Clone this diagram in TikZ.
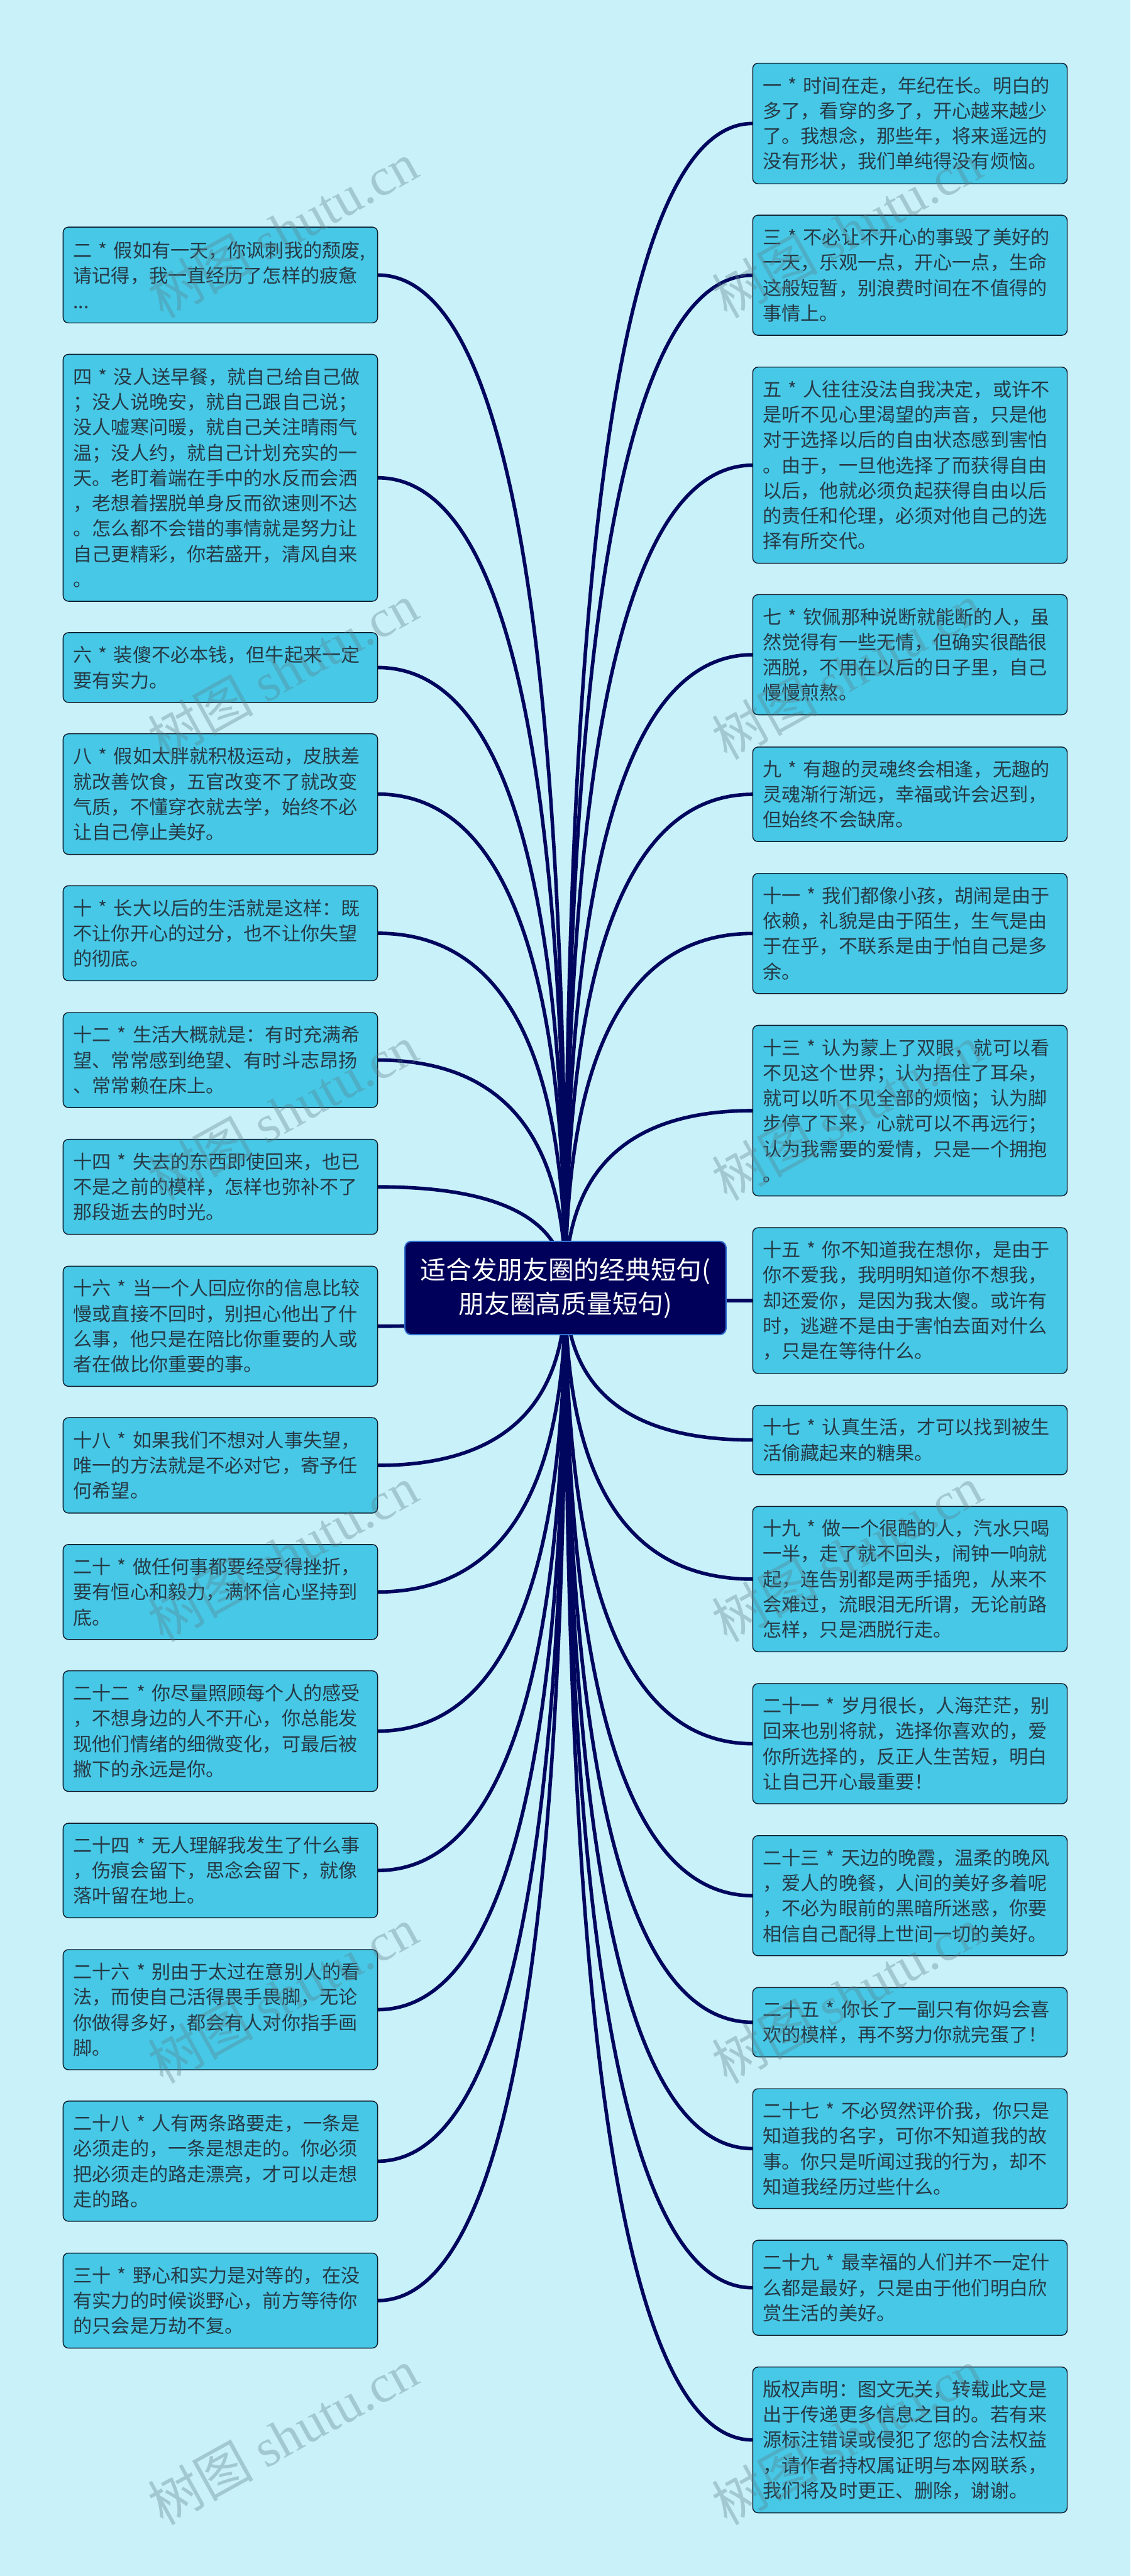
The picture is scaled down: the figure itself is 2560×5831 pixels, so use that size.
\documentclass[tikz,border=0pt]{standalone}
\usepackage{fontspec}
\setmainfont{Noto Sans CJK SC}
\newfontfamily\wmlat{Liberation Serif}
\usetikzlibrary{calc}
\definecolor{pagebg}{HTML}{C9F1F9}
\definecolor{leaffill}{HTML}{47C8E6}
\definecolor{leafline}{HTML}{0B1A2A}
\definecolor{leaftext}{HTML}{263A46}
\definecolor{rootfill}{HTML}{00005A}
\definecolor{rootline}{HTML}{2F6FD0}
\definecolor{linkcol}{HTML}{00065E}
\definecolor{wmcol}{HTML}{5A7F8A}
\pgfdeclarelayer{bgfill}
\pgfdeclarelayer{edges}
\pgfdeclarelayer{wm}
\pgfsetlayers{bgfill,edges,main,wm}
\tikzset{
  leafbox/.style={draw=leafline,fill=leaffill,line width=1pt,rounded corners=6pt,
    text=leaftext,align=left,inner xsep=11.5pt,inner ysep=0pt,outer sep=0pt,
    text width=333pt,
    font={\fontsize{21.45pt}{28.65pt}\selectfont\spaceskip=.27em\relax}},
  rootbox/.style={draw=rootline,fill=rootfill,line width=1.5pt,rounded corners=7pt,
    text=white,align=center,inner sep=0pt,outer sep=0pt,
    minimum width=363.5pt,minimum height=105.5pt,
    font={\fontsize{29pt}{38.5pt}\selectfont}},
  link/.style={draw=linkcol,line width=4pt},
  wmark/.style={text=wmcol,opacity=.35,rotate=29,inner sep=0pt,
    font={\fontsize{60pt}{60pt}\selectfont}}
}
\newcommand{\leafL}[4]{\node[leafbox,minimum height={(#3-#2)*0.5pt}] (#1) at ({499},{(#2+#3)/2}) {#4};}
\newcommand{\leafR}[4]{\node[leafbox,minimum height={(#3-#2)*0.5pt}] (#1) at ({2060.5},{(#2+#3)/2}) {#4};}
\begin{document}
\begin{tikzpicture}[x=0.5pt,y=-0.5pt]
\useasboundingbox (0,0) rectangle (2560,5831);
\begin{pgfonlayer}{bgfill}
\fill[pagebg] (0,0) rectangle (2560,5831);
\end{pgfonlayer}
\node[rootbox] (root) at (1280.5,2915.5) {适合发朋友圈的经典短句(\\朋友圈高质量短句)};
\leafL{l2}{514}{731}{二 * 假如有一天，你讽刺我的颓废,\\请记得，我一直经历了怎样的疲惫\\...}
\leafL{l4}{802}{1361}{四 * 没人送早餐，就自己给自己做\\；没人说晚安，就自己跟自己说；\\没人嘘寒问暖，就自己关注晴雨气\\温；没人约，就自己计划充实的一\\天。老盯着端在手中的水反而会洒\\，老想着摆脱单身反而欲速则不达\\。怎么都不会错的事情就是努力让\\自己更精彩，你若盛开，清风自来\\。}
\leafL{l6}{1432}{1590}{六 * 装傻不必本钱，但牛起来一定\\要有实力。}
\leafL{l8}{1661}{1934}{八 * 假如太胖就积极运动，皮肤差\\就改善饮食，五官改变不了就改变\\气质，不懂穿衣就去学，始终不必\\让自己停止美好。}
\leafL{l10}{2005}{2220}{十 * 长大以后的生活就是这样：既\\不让你开心的过分，也不让你失望\\的彻底。}
\leafL{l12}{2292}{2507}{十二 * 生活大概就是：有时充满希\\望、常常感到绝望、有时斗志昂扬\\、常常赖在床上。}
\leafL{l14}{2579}{2794}{十四 * 失去的东西即使回来，也已\\不是之前的模样，怎样也弥补不了\\那段逝去的时光。}
\leafL{l16}{2866}{3138}{十六 * 当一个人回应你的信息比较\\慢或直接不回时，别担心他出了什\\么事，他只是在陪比你重要的人或\\者在做比你重要的事。}
\leafL{l18}{3209}{3425}{十八 * 如果我们不想对人事失望，\\唯一的方法就是不必对它，寄予任\\何希望。}
\leafL{l20}{3496}{3711}{二十 * 做任何事都要经受得挫折，\\要有恒心和毅力，满怀信心坚持到\\底。}
\leafL{l22}{3782}{4055}{二十二 * 你尽量照顾每个人的感受\\，不想身边的人不开心，你总能发\\现他们情绪的细微变化，可最后被\\撇下的永远是你。}
\leafL{l24}{4127}{4341}{二十四 * 无人理解我发生了什么事\\，伤痕会留下，思念会留下，就像\\落叶留在地上。}
\leafL{l26}{4413}{4685}{二十六 * 别由于太过在意别人的看\\法，而使自己活得畏手畏脚，无论\\你做得多好，都会有人对你指手画\\脚。}
\leafL{l28}{4756}{5028}{二十八 * 人有两条路要走，一条是\\必须走的，一条是想走的。你必须\\把必须走的路走漂亮，才可以走想\\走的路。}
\leafL{l30}{5100}{5315}{三十 * 野心和实力是对等的，在没\\有实力的时候谈野心，前方等待你\\的只会是万劫不复。}
\leafR{r1}{143}{416}{一 * 时间在走，年纪在长。明白的\\多了，看穿的多了，开心越来越少\\了。我想念，那些年，将来遥远的\\没有形状，我们单纯得没有烦恼。}
\leafR{r3}{487}{759}{三 * 不必让不开心的事毁了美好的\\一天，乐观一点，开心一点，生命\\这般短暂，别浪费时间在不值得的\\事情上。}
\leafR{r5}{831}{1275}{五 * 人往往没法自我决定，或许不\\是听不见心里渴望的声音，只是他\\对于选择以后的自由状态感到害怕\\。由于，一旦他选择了而获得自由\\以后，他就必须负起获得自由以后\\的责任和伦理，必须对他自己的选\\择有所交代。}
\leafR{r7}{1346}{1618}{七 * 钦佩那种说断就能断的人，虽\\然觉得有一些无情，但确实很酷很\\洒脱，不用在以后的日子里，自己\\慢慢煎熬。}
\leafR{r9}{1691}{1905}{九 * 有趣的灵魂终会相逢，无趣的\\灵魂渐行渐远，幸福或许会迟到，\\但始终不会缺席。}
\leafR{r11}{1977}{2249}{十一 * 我们都像小孩，胡闹是由于\\依赖，礼貌是由于陌生，生气是由\\于在乎，不联系是由于怕自己是多\\余。}
\leafR{r13}{2321}{2707}{十三 * 认为蒙上了双眼，就可以看\\不见这个世界；认为捂住了耳朵，\\就可以听不见全部的烦恼；认为脚\\步停了下来，心就可以不再远行；\\认为我需要的爱情，只是一个拥抱\\。}
\leafR{r15}{2779}{3109}{十五 * 你不知道我在想你，是由于\\你不爱我，我明明知道你不想我，\\却还爱你，是因为我太傻。或许有\\时，逃避不是由于害怕去面对什么\\，只是在等待什么。}
\leafR{r17}{3181}{3338}{十七 * 认真生活，才可以找到被生\\活偷藏起来的糖果。}
\leafR{r19}{3410}{3739}{十九 * 做一个很酷的人，汽水只喝\\一半，走了就不回头，闹钟一响就\\起，连告别都是两手插兜，从来不\\会难过，流眼泪无所谓，无论前路\\怎样，只是洒脱行走。}
\leafR{r21}{3811}{4083}{二十一 * 岁月很长，人海茫茫，别\\回来也别将就，选择你喜欢的，爱\\你所选择的，反正人生苦短，明白\\让自己开心最重要！}
\leafR{r23}{4155}{4427}{二十三 * 天边的晚霞，温柔的晚风\\，爱人的晚餐，人间的美好多着呢\\，不必为眼前的黑暗所迷惑，你要\\相信自己配得上世间一切的美好。}
\leafR{r25}{4499}{4656}{二十五 * 你长了一副只有你妈会喜\\欢的模样，再不努力你就完蛋了！}
\leafR{r27}{4728}{4999}{二十七 * 不必贸然评价我，你只是\\知道我的名字，可你不知道我的故\\事。你只是听闻过我的行为，却不\\知道我经历过些什么。}
\leafR{r29}{5071}{5286}{二十九 * 最幸福的人们并不一定什\\么都是最好，只是由于他们明白欣\\赏生活的美好。}
\leafR{r31}{5358}{5688}{版权声明：图文无关，转载此文是\\出于传递更多信息之目的。若有来\\源标注错误或侵犯了您的合法权益\\，请作者持权属证明与本网联系，\\我们将及时更正、删除，谢谢。}
\begin{pgfonlayer}{edges}
\foreach \n in {l2,l4,l6,l8,l10,l12,l14,l16,l18,l20,l22,l24,l26,l28,l30}
  \draw[link] (\n.east) .. controls ($(\n.east)!2/3!(\n.east -| root.center)$) and ($(root.center)!2/3!(\n.east -| root.center)$) .. (root.center);
\foreach \n in {r1,r3,r5,r7,r9,r11,r13,r15,r17,r19,r21,r23,r25,r27,r29,r31}
  \draw[link] (\n.west) .. controls ($(\n.west)!2/3!(\n.west -| root.center)$) and ($(root.center)!2/3!(\n.west -| root.center)$) .. (root.center);
\end{pgfonlayer}
\begin{pgfonlayer}{wm}
\foreach \k in {0,...,5} {
  \node[wmark] (wa\k) at (640,{520+999*\k}) {树图 {\wmlat shutu.cn}};
  \node[wmark] (wb\k) at (1918,{520+999*\k}) {树图 {\wmlat shutu.cn}};
}
\end{pgfonlayer}
\end{tikzpicture}
\end{document}
